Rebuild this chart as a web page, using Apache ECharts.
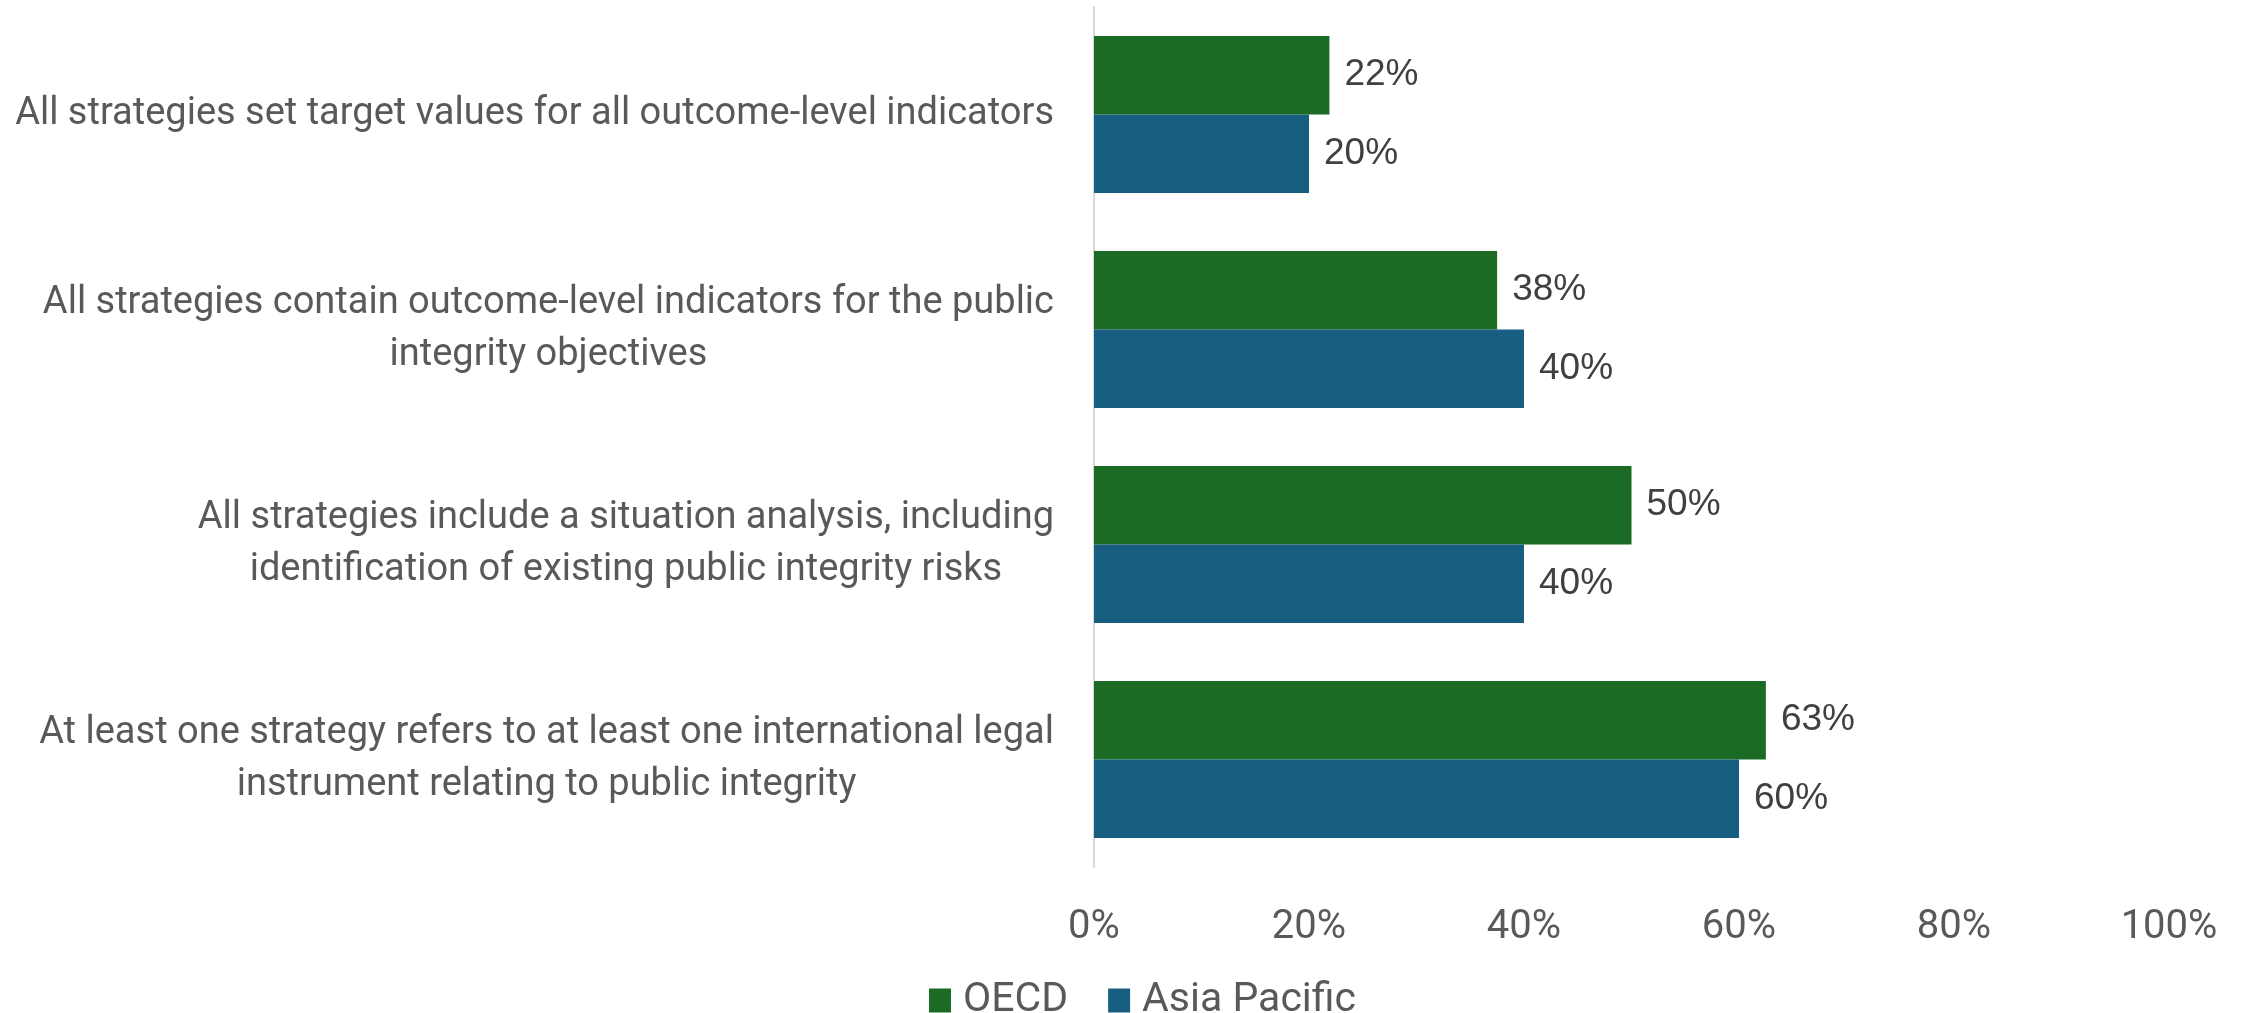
<!DOCTYPE html>
<html><head><meta charset="utf-8">
<script src="https://cdn.jsdelivr.net/npm/echarts@6/dist/echarts.min.js"></script>
<style>html,body{margin:0;padding:0;background:#fff}#c{width:2247px;height:1013px}</style>
</head><body><div id="c"></div>
<script>
const categories = [
  "All strategies set target values for all outcome-level indicators",
  "All strategies contain outcome-level indicators for the public\nintegrity objectives",
  "All strategies include a situation analysis, including\nidentification of existing public integrity risks",
  "At least one strategy refers to at least one international legal\ninstrument relating to public integrity"
];
const oecd = [21.9, 37.5, 50, 62.5];
const asiaPacific = [20, 40, 40, 60];
const xTicks = [0, 20, 40, 60, 80, 100];

const NARROW = "'Liberation Sans Narrow', 'Arial Narrow', 'Roboto', sans-serif";
const chart = echarts.init(document.getElementById('c'));
const labelCfg = {
  show: true, position: 'right', distance: 15,
  color: '#404040', fontFamily: "'Liberation Sans', Arial, sans-serif", fontSize: 37,
  formatter: p => Math.round(p.value) + '%'
};
chart.setOption({
  animation: false,
  grid: { left: 1094, right: 78, top: 7, bottom: 146, containLabel: false },
  legend: {
    top: 980, left: 929, padding: 0, icon: 'rect', itemWidth: 22, itemHeight: 24, itemGap: 40,
    textStyle: { color: '#595959', fontSize: 41, fontFamily: NARROW, padding: [0, 0, 0, 7] },
    data: ['OECD', 'Asia Pacific']
  },
  xAxis: {
    type: 'value', min: xTicks[0], max: xTicks[xTicks.length - 1], interval: 20,
    axisLine: { show: false }, axisTick: { show: false }, splitLine: { show: false },
    axisLabel: { color: '#595959', fontSize: 40, fontFamily: NARROW, margin: 41,
      formatter: v => v + '%' }
  },
  yAxis: {
    type: 'category', inverse: true, data: categories,
    axisLine: { show: true, lineStyle: { color: '#d9d9d9', width: 2 } },
    axisTick: { show: false },
    axisLabel: {
      margin: 40, align: 'right',
      formatter: v => v.split('\n').map(l => '{c|' + l + '}').join('\n'),
      rich: { c: { align: 'center', color: '#595959', fontSize: 38, lineHeight: 52, fontFamily: NARROW } }
    }
  },
  series: [
    { name: 'OECD', type: 'bar', data: oecd, barGap: '0%', barCategoryGap: '27%',
      itemStyle: { color: '#1b6b24' }, label: labelCfg },
    { name: 'Asia Pacific', type: 'bar', data: asiaPacific, barGap: '0%', barCategoryGap: '27%',
      itemStyle: { color: '#175e80' }, label: labelCfg }
  ]
});
</script></body></html>
